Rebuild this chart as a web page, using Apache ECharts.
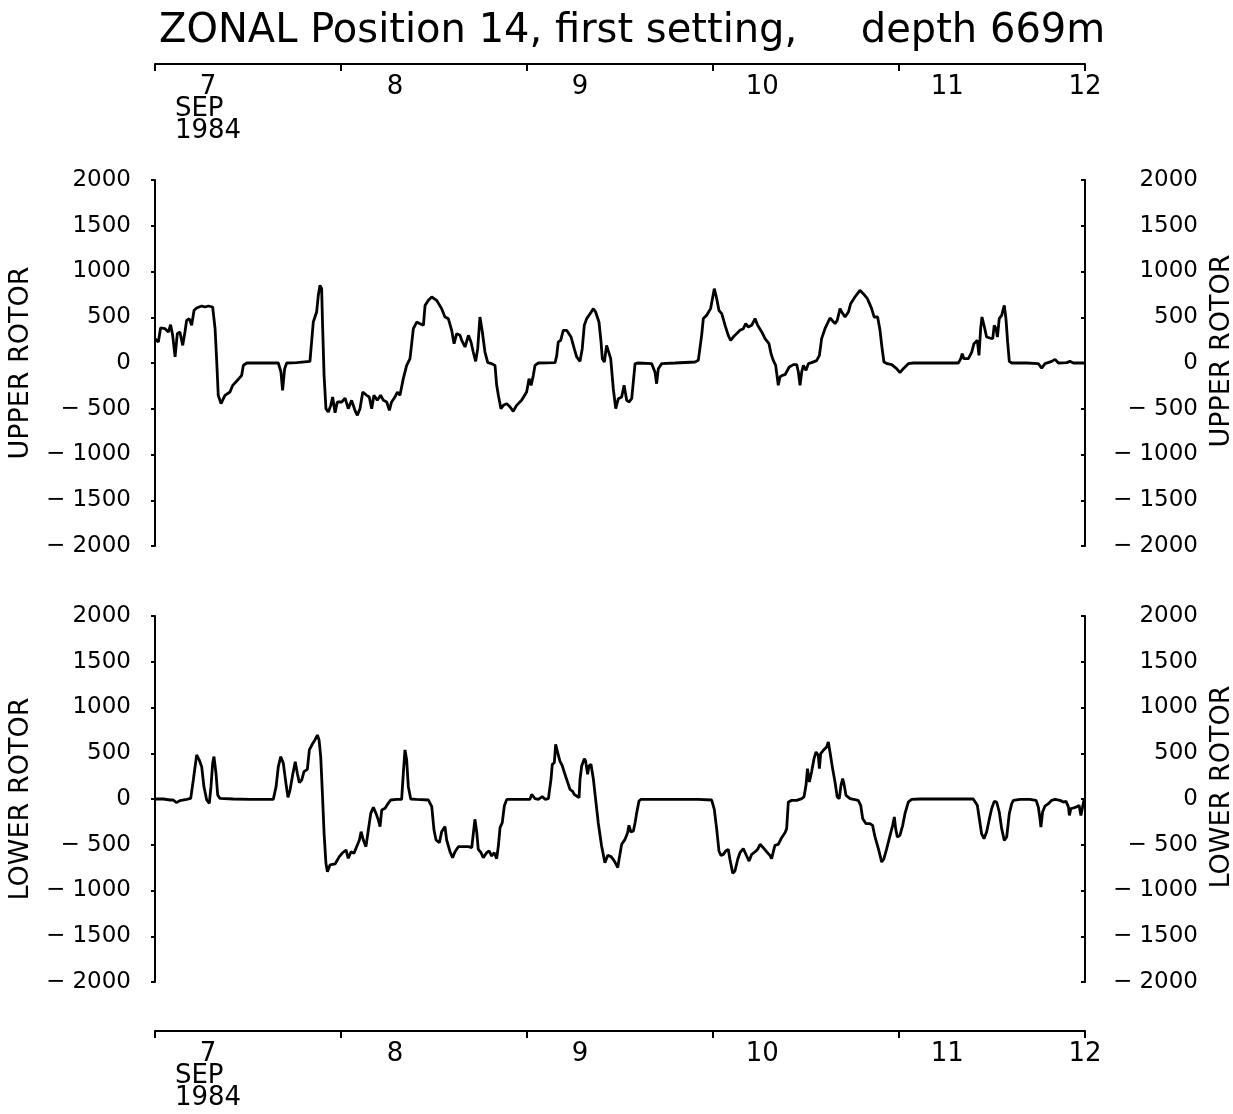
<!DOCTYPE html>
<html><head><meta charset="utf-8">
<script src="https://cdn.jsdelivr.net/npm/echarts@6/dist/echarts.min.js"></script>
<style>html,body{margin:0;padding:0;background:#fff;overflow:hidden;width:1233px;height:1114px}#c{position:absolute;left:0;top:0;width:1233px;height:1114px}</style>
</head><body><div id="c"></div>
<script>
// ---------- data (days since 7 Sep 1984 00:00, rotor speed) ----------
const titleText = 'ZONAL Position 14, first setting,     depth 669m';
const dayLabels = ['7', '8', '9', '10', '11', '12'];
const monthLabel = 'SEP';
const yearLabel = '1984';
const dayTicks = [0, 1, 2, 3, 4, 5];
const dayLabelAt = [0.285, 1.29, 2.285, 3.265, 4.26, 5.0];
const upperName = 'UPPER ROTOR';
const lowerName = 'LOWER ROTOR';

const upperTime = [0.000,0.018,0.030,0.054,0.072,0.084,0.095,0.108,0.120,0.134,0.149,0.161,0.170,0.184,0.197,0.210,0.224,0.251,0.269,0.287,0.310,0.323,0.332,0.340,0.355,0.376,0.403,0.418,0.443,0.466,0.475,0.493,0.582,0.663,0.677,0.686,0.697,0.708,0.762,0.833,0.842,0.851,0.869,0.878,0.887,0.896,0.901,0.909,0.919,0.932,0.945,0.955,0.968,0.980,1.004,1.022,1.039,1.057,1.075,1.088,1.102,1.117,1.138,1.152,1.165,1.177,1.195,1.213,1.228,1.246,1.260,1.272,1.290,1.303,1.317,1.335,1.353,1.371,1.389,1.407,1.425,1.443,1.452,1.470,1.488,1.514,1.541,1.559,1.577,1.595,1.608,1.622,1.640,1.649,
1.667,1.685,1.699,1.711,1.724,1.735,1.747,1.760,1.774,1.789,1.810,1.828,1.837,1.846,1.860,1.873,1.891,1.909,1.926,1.944,1.971,1.998,2.011,2.022,2.034,2.043,2.061,2.151,2.160,2.168,2.181,2.195,2.213,2.237,2.254,2.267,2.285,2.297,2.308,2.321,2.339,2.357,2.369,2.387,2.398,2.405,2.416,2.428,2.437,2.450,2.464,2.477,2.491,2.509,2.522,2.536,2.548,2.563,2.581,2.599,2.670,2.688,2.697,2.706,2.724,2.796,2.903,2.921,2.939,2.948,2.966,2.987,3.007,3.020,3.032,3.047,3.065,3.082,3.095,3.109,3.127,3.145,3.163,3.176,3.190,3.208,3.226,3.240,3.262,3.280,3.301,3.312,3.324,3.337,3.351,3.360,3.373,3.387,
3.410,3.432,3.450,3.459,3.468,3.477,3.486,3.500,3.513,3.530,3.557,3.572,3.584,3.602,3.629,3.656,3.668,3.683,3.692,3.710,3.728,3.740,3.763,3.790,3.808,3.830,3.853,3.866,3.885,3.898,3.907,3.919,3.937,3.961,3.987,4.005,4.023,4.050,4.077,4.319,4.332,4.340,4.349,4.373,4.391,4.403,4.421,4.430,4.439,4.446,4.457,4.471,4.489,4.504,4.512,4.522,4.529,4.539,4.552,4.566,4.575,4.584,4.593,4.606,4.686,4.749,4.767,4.785,4.821,4.839,4.857,4.902,4.919,4.937,5.000];
const upperSpeed = [266,230,383,375,339,419,302,66,321,339,193,339,466,485,412,576,601,623,612,623,612,375,11,-353,-444,-353,-317,-244,-189,-135,-26,0,0,0,-98,-299,-62,0,4,18,230,448,557,740,849,812,412,-135,-499,-536,-463,-372,-543,-426,-426,-383,-499,-408,-517,-572,-499,-317,-353,-372,-499,-353,-408,-353,-408,-426,-517,-426,-372,-317,-353,-171,-26,47,375,448,430,412,630,685,721,685,594,503,485,357,211,321,302,248,
175,302,230,120,18,157,503,339,120,4,-7,-26,-244,-353,-499,-463,-444,-481,-528,-463,-408,-317,-171,-244,-135,-26,0,4,84,230,248,357,357,284,157,66,18,157,412,485,539,594,557,448,230,47,11,193,211,47,-281,-499,-390,-372,-244,-408,-426,-390,-7,0,-7,-98,-226,-62,-7,0,11,29,302,485,521,594,812,703,576,539,412,302,248,284,321,357,375,430,393,412,485,412,339,266,211,102,29,-26,-244,-153,-135,-128,
-44,-18,-18,-98,-244,-98,-26,-80,-7,4,26,84,266,375,492,430,466,594,557,503,557,648,721,794,758,703,594,503,503,357,193,11,-7,-18,-62,-106,-62,-7,0,0,47,102,47,47,120,211,248,84,375,503,412,284,273,266,412,375,284,485,521,630,485,230,18,0,0,-7,-55,-7,18,40,0,4,18,0,0];

const lowerTime = [0.000,0.045,0.081,0.098,0.116,0.134,0.170,0.192,0.206,0.224,0.238,0.251,0.263,0.278,0.292,0.301,0.310,0.317,0.328,0.337,0.349,0.421,0.511,0.636,0.651,0.663,0.676,0.690,0.704,0.715,0.726,0.740,0.754,0.765,0.776,0.789,0.801,0.819,0.830,0.848,0.860,0.873,0.882,0.891,0.900,0.909,0.919,0.927,0.941,0.968,0.991,1.009,1.027,1.039,1.054,1.070,1.084,1.099,1.108,1.120,1.134,1.147,1.160,1.174,1.188,1.201,1.210,1.219,1.237,1.254,1.267,1.299,1.326,1.335,1.344,1.353,1.362,1.375,1.407,1.470,1.488,1.500,1.511,1.529,1.541,1.559,1.568,1.586,1.600,1.613,1.631,1.658,
1.667,1.685,1.703,1.711,1.720,1.730,1.738,1.753,1.765,1.783,1.796,1.810,1.824,1.837,1.846,1.855,1.867,1.878,1.891,1.935,2.016,2.025,2.034,2.043,2.061,2.082,2.097,2.115,2.129,2.136,2.147,2.154,2.165,2.177,2.190,2.204,2.219,2.231,2.244,2.254,2.267,2.280,2.285,2.294,2.308,2.315,2.326,2.333,2.344,2.357,2.369,2.383,2.401,2.419,2.434,2.452,2.470,2.488,2.495,2.509,2.527,2.541,2.548,2.559,2.572,2.581,2.590,2.602,2.613,2.921,2.993,3.007,3.020,3.032,3.043,3.056,3.068,3.082,3.091,3.106,3.118,3.133,3.145,3.163,3.181,3.194,3.208,3.226,3.240,3.253,3.270,3.289,3.306,3.315,3.333,3.351,3.369,3.387,
3.396,3.405,3.423,3.450,3.477,3.489,3.500,3.508,3.518,3.530,3.543,3.554,3.566,3.572,3.579,3.593,3.611,3.620,3.629,3.643,3.656,3.668,3.679,3.688,3.697,3.704,3.715,3.737,3.781,3.794,3.805,3.823,3.844,3.858,3.871,3.889,3.907,3.919,3.934,3.952,3.966,3.975,3.982,3.991,4.005,4.020,4.032,4.050,4.068,4.113,4.292,4.399,4.421,4.432,4.444,4.457,4.471,4.486,4.498,4.512,4.525,4.539,4.552,4.566,4.579,4.593,4.606,4.615,4.651,4.704,4.737,4.749,4.758,4.763,4.772,4.785,4.803,4.821,4.839,4.866,4.884,4.898,4.911,4.916,4.924,4.937,4.955,4.968,4.978,4.987,4.995];
const lowerSpeed = [0,0,-11,-11,-40,-18,-4,7,208,481,426,353,135,-11,-47,135,390,463,281,44,7,0,-4,-4,135,353,463,390,171,18,98,262,408,281,179,208,299,324,536,608,645,699,645,463,62,-375,-703,-794,-721,-710,-630,-587,-557,-648,-576,-594,-521,-448,-357,-448,-521,-339,-157,-91,-157,-230,-302,-120,-102,-47,-11,-4,-4,281,536,426,135,0,-4,-11,-84,-339,-448,-477,-357,-302,-448,-576,-641,-576,-521,-521,
-514,-521,-532,-514,-222,-368,-550,-587,-641,-587,-568,-623,-587,-652,-514,-313,-259,-77,-4,-4,-4,51,69,4,-4,26,-4,4,215,379,397,597,506,415,361,270,179,106,87,51,33,15,215,361,441,415,270,361,379,215,-4,-259,-514,-696,-616,-630,-678,-750,-659,-495,-441,-368,-288,-361,-350,-259,-149,-22,-4,-4,-11,-113,-332,-568,-616,-605,-568,-550,-659,-812,-787,-659,-587,-543,-623,-678,-605,-579,-550,-495,-532,-579,-616,-652,-506,-495,-423,-368,
-324,-33,-15,-15,4,22,149,332,186,295,441,514,477,332,495,532,568,623,514,332,186,22,4,149,222,168,40,4,-15,-69,-215,-270,-270,-288,-415,-543,-689,-652,-543,-397,-288,-197,-324,-415,-397,-288,-160,-33,-4,0,0,0,-69,-215,-379,-434,-361,-215,-106,-26,-33,-142,-324,-452,-415,-160,-51,-15,-4,-4,-15,-87,-215,-306,-142,-77,-51,-15,-4,-15,-33,-26,-87,-179,-106,-98,-87,-69,-179,-87,-4];

// ---------- chart ----------
const FONT = 'DejaVu Sans';
const zip = (t, v) => t.map((x, i) => [x, v[i]]);
const minus = v => (v < 0 ? '\u2212 ' + (-v) : String(v));

function dayFormatter(value) {
  const i = dayLabelAt.findIndex(p => Math.abs(p - value) < 1e-6);
  if (i < 0) return '';
  if (i === 0) return '{d|' + dayLabels[0] + '}\n{m|' + monthLabel + '}\n{y|' + yearLabel + '}';
  return '{d|' + dayLabels[i] + '}';
}
const richDay = {
  d: { fontSize: 26, lineHeight: 22, fontFamily: FONT, color: '#000', align: 'center' },
  m: { fontSize: 26, lineHeight: 22, fontFamily: FONT, color: '#000', align: 'left' },
  y: { fontSize: 26, lineHeight: 22, fontFamily: FONT, color: '#000', align: 'center' }
};

function timeAxis(gridIndex, position, offset, inside) {
  return {
    type: 'value', gridIndex, position, offset, min: 0, max: 5,
    axisLine: { show: true, onZero: false, lineStyle: { color: '#000', width: 2 } },
    axisTick: { show: true, inside, length: 7, customValues: dayTicks, lineStyle: { color: '#000', width: 2 } },
    axisLabel: { show: true, inside, margin: 12, customValues: dayLabelAt, formatter: dayFormatter, rich: richDay },
    splitLine: { show: false }
  };
}
function dataX(gridIndex) {
  return { type: 'value', gridIndex, min: 0, max: 5, show: false,
    axisLine: { onZero: false }, splitLine: { show: false } };
}
function rotorAxis(gridIndex, position, name) {
  const right = position === 'right';
  return {
    type: 'value', gridIndex, position, min: -2000, max: 2000, interval: 500,
    name, nameLocation: 'middle', nameRotate: 90, nameGap: right ? 120 : 115,
    nameTextStyle: { fontSize: 27, fontFamily: FONT, color: '#000', padding: right ? [0, 0, 0, 24] : 0 },
    axisLine: { show: true, onZero: false, lineStyle: { color: '#000', width: 2 } },
    axisTick: { show: true, inside: right, length: 4, lineStyle: { color: '#000', width: 2 } },
    axisLabel: { fontSize: 23, fontFamily: FONT, color: '#000', margin: right ? 113 : 24,
      align: 'right', formatter: minus },
    splitLine: { show: false }
  };
}
function lineSeries(xi, yi, data) {
  return { type: 'line', xAxisIndex: xi, yAxisIndex: yi, data, showSymbol: false, symbol: 'none',
    lineStyle: { color: '#000', width: 2.8 }, animation: false, silent: true };
}

const chart = echarts.init(document.getElementById('c'), null, { renderer: 'canvas' });
chart.setOption({
  backgroundColor: '#fff',
  animation: false,
  title: { text: titleText, left: 154, top: 7,
    textStyle: { fontSize: 40, fontWeight: 'normal', fontFamily: FONT, color: '#000' } },
  grid: [
    { left: 155, right: 148, top: 180, height: 366, containLabel: false, outerBoundsMode: 'none' },
    { left: 155, right: 148, top: 616, height: 366, containLabel: false, outerBoundsMode: 'none' }
  ],
  xAxis: [dataX(0), dataX(1), timeAxis(0, 'top', 116, true), timeAxis(1, 'bottom', 49, false)],
  yAxis: [rotorAxis(0, 'left', upperName), rotorAxis(0, 'right', upperName),
          rotorAxis(1, 'left', lowerName), rotorAxis(1, 'right', lowerName)],
  series: [lineSeries(0, 0, zip(upperTime, upperSpeed)), lineSeries(1, 2, zip(lowerTime, lowerSpeed))]
});
</script></body></html>
